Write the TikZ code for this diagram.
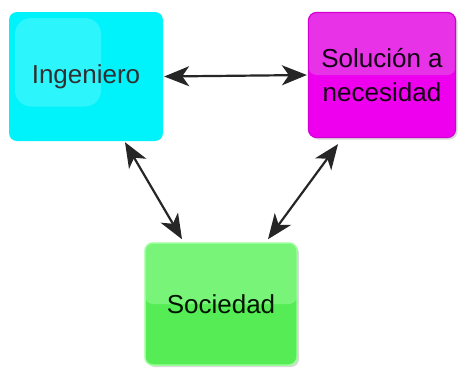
\documentclass[tikz,border=0pt]{standalone}
\usepackage{fontspec}
\setmainfont{Liberation Sans}
\usetikzlibrary{arrows.meta,shadows}

\definecolor{cian}{RGB}{0,242,250}
\definecolor{cianclaro}{RGB}{45,245,252}
\definecolor{magenta}{RGB}{238,0,238}
\definecolor{magentaclaro}{RGB}{232,50,232}
\definecolor{magentaborde}{RGB}{210,0,210}
\definecolor{verde}{RGB}{85,236,85}
\definecolor{verdeclaro}{RGB}{120,245,120}
\definecolor{verdeborde}{RGB}{150,255,150}

\begin{document}
\begin{tikzpicture}[x=1pt,y=-1pt,>={Stealth[length=25pt,width=20pt,inset=7pt]},
	caja/.style={rounded corners=8pt, inner sep=0pt, align=center,
		font=\fontsize{26}{34}\selectfont},
	brillo/.style={path picture={\fill[#1] (path picture bounding box.north west)
		rectangle (path picture bounding box.east);}},
	flecha/.style={<->, line width=2.2pt, black!85}]
	\useasboundingbox (0,0) rectangle (466,373);
	% cajas
	\node (ing) [caja, fill=cian, text=black!92!cyan,
		minimum width=154pt, minimum height=129pt,
		path picture={\fill[cianclaro, rounded corners=16pt]
			([shift={(6pt,-6pt)}]path picture bounding box.north west)
			rectangle ([shift={(15pt,-30pt)}]path picture bounding box.center);}]
		at (86,76.5) {Ingeniero};
	\node (sol) [caja, fill=magenta, draw=magentaborde, line width=1.2pt,
		text=black!92!magenta, minimum width=147pt, minimum height=125pt,
		brillo=magentaclaro, drop shadow={shadow xshift=2pt, shadow yshift=-2pt, opacity=0.3}]
		at (382,75) {Solución a\\necesidad};
	\node (soc) [caja, fill=verde, draw=verdeborde, line width=1.5pt,
		text=black!92!green, minimum width=152pt, minimum height=122pt,
		brillo=verdeclaro, drop shadow={shadow xshift=2pt, shadow yshift=-2pt, opacity=0.3}]
		at (221,304) {Sociedad};
	% flechas
	\draw[flecha] ([shift={(1pt,0pt)}]ing.east) -- ([shift={(-1pt,0pt)}]sol.west);
	\draw[flecha] ([shift={(39pt,-1pt)}]ing.south) -- ([shift={(-39pt,3pt)}]soc.north);
	\draw[flecha] ([shift={(-44pt,-6pt)}]sol.south) -- ([shift={(47pt,3pt)}]soc.north);
\end{tikzpicture}
\end{document}
